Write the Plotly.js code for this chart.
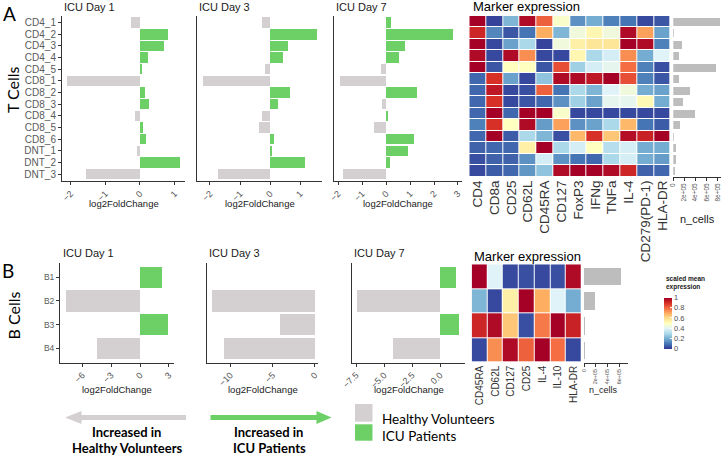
<!DOCTYPE html>
<html><head><meta charset="utf-8">
<script src="https://cdn.plot.ly/plotly-3.0.1.min.js"></script>
<style>html,body{margin:0;padding:0;background:#fff}#chart{width:721px;height:455px}</style>
</head><body><div id="chart"></div>
<script>
// ---------- data ----------
const tClusters = ['CD4_1','CD4_2','CD4_3','CD4_4','CD4_5','CD8_1','CD8_2','CD8_3','CD8_4','CD8_5','CD8_6','DNT_1','DNT_2','DNT_3'];
const tDay1 = [-0.27, 0.81, 0.70, 0.24, 0.05, -2.12, 0.13, 0.27, -0.15, 0.10, 0.16, -0.08, 1.16, -1.55];
const tDay3 = [-0.26, 1.56, 0.61, 0.44, -0.17, -2.22, 0.67, 0.28, -0.28, -0.37, 0.13, 0.05, 1.16, -1.72];
const tDay7 = [0.22, 2.80, 0.79, 0.55, -0.22, -1.92, 1.28, -0.18, 0.07, -0.49, 1.17, 0.90, 0.17, -1.78];
const tMarkers = ['CD4','CD8a','CD25','CD62L','CD45RA','CD127','FoxP3','IFNg','TNFa','IL-4','CD279(PD-1)','HLA-DR'];
const tExpr = [
  [1.00,0.02,0.22,0.98,0.82,0.48,0.15,0.20,0.12,0.10,0.03,0.05],
  [0.92,0.13,0.05,0.10,0.70,0.22,0.45,0.53,0.45,0.98,0.72,0.18],
  [1.00,0.03,0.18,0.30,0.02,0.45,0.55,0.58,0.58,1.00,0.98,0.12],
  [0.98,0.03,0.98,0.75,0.03,0.03,0.53,0.30,0.38,0.75,0.20,0.40],
  [1.00,0.05,0.50,0.50,0.05,0.85,0.28,0.38,0.42,0.80,0.12,0.04],
  [0.08,0.90,0.18,0.03,0.25,0.98,0.98,0.95,1.00,0.85,0.12,0.05],
  [0.08,0.95,0.03,0.04,0.82,0.10,0.30,0.22,0.40,0.45,0.20,0.18],
  [0.08,0.90,0.03,0.05,0.08,0.15,0.28,0.18,0.42,0.42,0.52,0.20],
  [0.08,1.00,0.08,1.00,1.00,0.48,0.03,0.03,0.03,0.03,0.03,0.03],
  [0.12,0.90,0.50,0.98,0.17,0.72,0.15,0.18,0.30,0.68,0.10,0.06],
  [0.08,1.00,0.06,0.30,0.22,0.04,0.68,0.90,0.65,0.97,0.93,1.00],
  [0.07,0.08,0.08,0.55,1.00,0.30,0.38,0.50,0.32,0.38,0.20,0.20],
  [0.04,0.07,0.07,0.15,0.38,0.15,0.10,0.08,0.30,0.38,0.20,0.17],
  [0.03,0.06,0.08,0.16,0.25,0.98,1.00,1.00,0.98,0.92,0.07,0.08]
];
const tCells = [840000, 20000, 158000, 104000, 770000, 104000, 296000, 176000, 400000, 127000, 10000, 55000, 50000, 30000];

const bClusters = ['B1','B2','B3','B4'];
const bDay1 = [2.32, -7.74, 2.95, -4.51];
const bDay3 = [null, -12.22, -4.08, -10.75];
const bDay7 = [1.43, -7.38, 1.70, -4.22];
const bMarkers = ['CD45RA','CD62L','CD127','CD25','IL-4','IL-10','HLA-DR'];
const bExpr = [
  [1.00,0.40,0.03,0.04,0.03,0.04,0.98],
  [0.22,0.03,0.55,1.00,0.70,0.40,0.20],
  [0.92,0.98,0.65,0.04,0.78,1.00,0.93],
  [0.03,0.75,0.98,0.82,1.00,0.80,0.03]
];
const bCells = [640000, 190000, 20000, 10000];

const dayTitles = ['ICU Day 1','ICU Day 3','ICU Day 7'];
const nTickVals = [0, 200000, 400000, 600000, 800000];
const nTickText = ['0','2e+05','4e+05','6e+05','8e+05'];
const cbTickVals = [0, 0.2, 0.4, 0.6, 0.8, 1];
const cbTickText = ['0','0.2','0.4','0.6','0.8','1'];

// ---------- helpers ----------
const W = 721, H = 455;
const GREEN = '#6dd066', GRAY = '#d4d0d1', NGRAY = '#bdbdbd';
const FONT = 'Liberation Sans, Arial, sans-serif';
const CAL = 'Lato, Carlito, sans-serif';
const dx = (a,b) => [a/W, b/W];
const dy = (top,bottom) => [(H-bottom)/H, (H-top)/H];
const px = x => x/W;
const py = y => 1 - y/H;
const signColors = arr => arr.map(v => (v !== null && v >= 0) ? GREEN : GRAY);
const rdylbu = [[0,'#313695'],[0.1,'#4575b4'],[0.2,'#74add1'],[0.3,'#abd9e9'],[0.4,'#e0f3f8'],[0.5,'#ffffbf'],[0.6,'#fee090'],[0.7,'#fdae61'],[0.8,'#f46d43'],[0.9,'#d73027'],[1,'#a50026']];

function barTrace(vals, cats, k){
  const s = k===1 ? '' : String(k);
  return {type:'bar', orientation:'h', x: vals, y: cats, xaxis:'x'+s, yaxis:'y'+s,
    width:0.9, marker:{color: signColors(vals), line:{width:0}}, hoverinfo:'skip', showlegend:false};
}
function lineAxis(extra){
  return Object.assign({showgrid:false, zeroline:false, showline:true, linecolor:'#333', linewidth:1,
    ticks:'outside', ticklen:3, tickcolor:'#333', tickwidth:1, fixedrange:true}, extra);
}

const traces = [
  barTrace(tDay1, tClusters, 1),
  barTrace(tDay3, tClusters, 2),
  barTrace(tDay7, tClusters, 3),
  {type:'heatmap', z:tExpr, x:tMarkers, y:tClusters, xaxis:'x4', yaxis:'y4', colorscale:rdylbu,
   zmin:0, zmax:1, showscale:false, xgap:1, ygap:1, hoverinfo:'skip'},
  {type:'bar', orientation:'h', x:tCells, y:tClusters, xaxis:'x5', yaxis:'y5', width:0.7,
   marker:{color:NGRAY}, hoverinfo:'skip', showlegend:false},
  barTrace(bDay1, bClusters, 6),
  barTrace(bDay3, bClusters, 7),
  barTrace(bDay7, bClusters, 8),
  {type:'heatmap', z:bExpr, x:bMarkers, y:bClusters, xaxis:'x9', yaxis:'y9', colorscale:rdylbu,
   zmin:0, zmax:1, xgap:1, ygap:1, hoverinfo:'skip', showscale:true,
   colorbar:{x:px(664), xanchor:'left', y:py(323), yanchor:'middle', len:51, lenmode:'pixels',
     thickness:8, thicknessmode:'pixels', outlinewidth:0, xpad:0, ypad:0,
     tickvals:cbTickVals, ticktext:cbTickText, ticks:'inside', ticklen:2, tickcolor:'#fff',
     tickfont:{family:FONT, size:7.5, color:'#4d4d4d'}}},
  {type:'bar', orientation:'h', x:bCells, y:bClusters, xaxis:'x10', yaxis:'y10', width:0.72,
   marker:{color:NGRAY}, hoverinfo:'skip', showlegend:false}
];

const tickF = {family:FONT, size:9, color:'#555'};
const aY = dy(15.7, 181);
const bY = dy(263, 362.5);
const layout = {
  width:W, height:H, margin:{l:0,r:0,t:0,b:0}, paper_bgcolor:'#fff', plot_bgcolor:'rgba(0,0,0,0)',
  showlegend:false, bargap:0, font:{family:FONT},
  xaxis: lineAxis({domain:dx(62,185), range:[-2.251,1.299], dtick:1, tickangle:-45, tickfont:tickF, anchor:'y'}),
  yaxis: lineAxis({domain:aY, type:'category', categoryorder:'array', categoryarray:tClusters, range:[13.6,-0.6], tickmode:'array', tickvals:tClusters, ticktext:tClusters, tickfont:{family:FONT,size:10,color:'#5a5a5a'}, anchor:'x'}),
  xaxis2: lineAxis({domain:dx(197,322), range:[-2.433,1.733], dtick:1, tickangle:-45, tickfont:tickF, anchor:'y2'}),
  yaxis2: lineAxis({domain:aY, type:'category', categoryorder:'array', categoryarray:tClusters, range:[13.6,-0.6], showticklabels:false, ticks:'', anchor:'x2'}),
  xaxis3: lineAxis({domain:dx(334,462), range:[-2.167,3.167], dtick:1, tickangle:-45, tickfont:tickF, anchor:'y3'}),
  yaxis3: lineAxis({domain:aY, type:'category', categoryorder:'array', categoryarray:tClusters, range:[13.6,-0.6], showticklabels:false, ticks:'', anchor:'x3'}),
  xaxis4: {domain:dx(469.3,670.7), type:'category', range:[-0.5,11.5], showgrid:false, zeroline:false, showline:false, ticks:'', tickmode:'array', tickvals:tMarkers, ticktext:tMarkers, tickangle:-90, tickfont:{family:FONT,size:13.5,color:'#333'}, anchor:'y4', fixedrange:true},
  yaxis4: {domain:dy(16,176.7), type:'category', categoryorder:'array', categoryarray:tClusters, range:[13.5,-0.5], showgrid:false, zeroline:false, showticklabels:false, ticks:'', anchor:'x4', fixedrange:true},
  xaxis5: lineAxis({domain:dx(673.3,720.5), range:[0,855000], tickvals:nTickVals, ticktext:nTickText, tickangle:-90, tickfont:{family:FONT,size:6.5,color:'#555'}, anchor:'y5'}),
  yaxis5: {domain:dy(16,176.7), type:'category', categoryorder:'array', categoryarray:tClusters, range:[13.5,-0.5], showgrid:false, zeroline:false, showline:false, showticklabels:false, ticks:'', anchor:'x5', fixedrange:true},
  xaxis6: lineAxis({domain:dx(60,174), range:[-8.33,3.54], dtick:3, tickangle:-45, tickfont:tickF, anchor:'y6'}),
  yaxis6: lineAxis({domain:bY, type:'category', categoryorder:'array', categoryarray:bClusters, range:[3.6,-0.6], tickmode:'array', tickvals:bClusters, ticktext:bClusters, tickfont:{family:FONT,size:8.5,color:'#5a5a5a'}, anchor:'x6'}),
  xaxis7: lineAxis({domain:dx(207,318), range:[-12.78,0.36], dtick:5, tickangle:-45, tickfont:tickF, anchor:'y7'}),
  yaxis7: lineAxis({domain:bY, type:'category', categoryorder:'array', categoryarray:bClusters, range:[3.6,-0.6], showticklabels:false, ticks:'', anchor:'x7'}),
  xaxis8: lineAxis({domain:dx(352,465), range:[-7.86,2.23], dtick:2.5, tick0:0, tickformat:'.1f', tickangle:-45, tickfont:tickF, anchor:'y8'}),
  yaxis8: lineAxis({domain:bY, type:'category', categoryorder:'array', categoryarray:bClusters, range:[3.6,-0.6], showticklabels:false, ticks:'', anchor:'x8'}),
  xaxis9: {domain:dx(471.7,581.7), type:'category', range:[-0.5,6.5], showgrid:false, zeroline:false, showline:false, ticks:'', tickmode:'array', tickvals:bMarkers, ticktext:bMarkers, tickangle:-90, tickfont:{family:FONT,size:10,color:'#333'}, anchor:'y9', fixedrange:true},
  yaxis9: {domain:dy(264.3,362.7), type:'category', categoryorder:'array', categoryarray:bClusters, range:[3.5,-0.5], showgrid:false, zeroline:false, showticklabels:false, ticks:'', anchor:'x9', fixedrange:true},
  xaxis10: lineAxis({domain:dx(584,628), range:[0,752000], tickvals:nTickVals.slice(0,4), ticktext:nTickText.slice(0,4), tickangle:-90, tickfont:{family:FONT,size:5.5,color:'#555'}, anchor:'y10'}),
  yaxis10: {domain:dy(264.3,362.7), type:'category', categoryorder:'array', categoryarray:bClusters, range:[3.5,-0.5], showgrid:false, zeroline:false, showline:false, showticklabels:false, ticks:'', anchor:'x10', fixedrange:true},
  annotations: [],
  shapes: []
};

function ann(text, x, y, opts){
  layout.annotations.push(Object.assign({text:text, x:px(x), y:py(y), xref:'paper', yref:'paper', showarrow:false,
    xanchor:'center', yanchor:'middle', font:{family:FONT, size:10, color:'#1a1a1a'}}, opts||{}));
}
// panel letters and row labels
ann('A', 9.5, 13.5, {font:{family:CAL, size:19, color:'#000'}});
ann('T Cells', 12.5, 89.5, {textangle:-90, font:{family:CAL, size:16, color:'#000'}});
ann('B', 8, 270, {font:{family:CAL, size:19, color:'#000'}});
ann('B Cells', 12.5, 316, {textangle:-90, font:{family:CAL, size:16, color:'#000'}});
// subplot titles
[62,197,334].forEach((x,i)=>ann(dayTitles[i], x, 7, {xanchor:'left', font:{family:FONT,size:11,color:'#1a1a1a'}}));
[61,207,352].forEach((x,i)=>ann(dayTitles[i], x, 253, {xanchor:'left', font:{family:FONT,size:11,color:'#1a1a1a'}}));
ann('Marker expression', 471, 7, {xanchor:'left', font:{family:FONT,size:13,color:'#000'}});
ann('Marker expression', 472, 256.5, {xanchor:'left', font:{family:FONT,size:13,color:'#000'}});
// axis titles
[123.5,259.5,398].forEach(x=>ann('log2FoldChange', x, 203, {font:{family:FONT,size:9.5,color:'#1a1a1a'}}));
[117,262.5,408.5].forEach(x=>ann('log2FoldChange', x, 389, {font:{family:FONT,size:9.5,color:'#1a1a1a'}}));
ann('n_cells', 697.5, 219, {font:{family:FONT,size:11,color:'#1a1a1a'}});
ann('n_cells', 603, 390, {font:{family:FONT,size:9,color:'#1a1a1a'}});
ann('<b>scaled mean<br>expression</b>', 664, 283, {xanchor:'left', align:'left', font:{family:FONT,size:6.5,color:'#1a1a1a'}});
// bottom key
ann('<b>Increased in</b>', 126.5, 432, {font:{family:CAL,size:13,color:'#000'}});
ann('<b>Healthy Volunteers</b>', 127.5, 448, {font:{family:CAL,size:13,color:'#000'}});
ann('<b>Increased in</b>', 268, 432, {font:{family:CAL,size:13,color:'#000'}});
ann('<b>ICU Patients</b>', 269, 448, {font:{family:CAL,size:13,color:'#000'}});
ann('Healthy Volunteers', 380, 418.5, {xanchor:'left', font:{family:CAL,size:13.5,color:'#000'}});
ann('ICU Patients', 380, 435.5, {xanchor:'left', font:{family:CAL,size:13.5,color:'#000'}});

function pathOf(pts){
  return 'M' + pts.map(p => px(p[0]).toFixed(5)+','+py(p[1]).toFixed(5)).join(' L') + ' Z';
}
layout.shapes.push({type:'path', xref:'paper', yref:'paper', fillcolor:GRAY, line:{width:0},
  path: pathOf([[65,417.5],[81.5,411],[81.5,415],[186,415],[186,420],[81.5,420],[81.5,424]])});
layout.shapes.push({type:'path', xref:'paper', yref:'paper', fillcolor:GREEN, line:{width:0},
  path: pathOf([[210.5,415],[316.5,415],[316.5,411],[331.5,417.5],[316.5,424],[316.5,420],[210.5,420]])});
layout.shapes.push({type:'rect', xref:'paper', yref:'paper', x0:px(355), x1:px(372.5), y0:py(404), y1:py(421.7), fillcolor:GRAY, line:{width:0}});
layout.shapes.push({type:'rect', xref:'paper', yref:'paper', x0:px(355), x1:px(372.5), y0:py(424.3), y1:py(440.7), fillcolor:GREEN, line:{width:0}});

Plotly.newPlot('chart', traces, layout, {staticPlot:true, displayModeBar:false});
</script>
</body></html>
